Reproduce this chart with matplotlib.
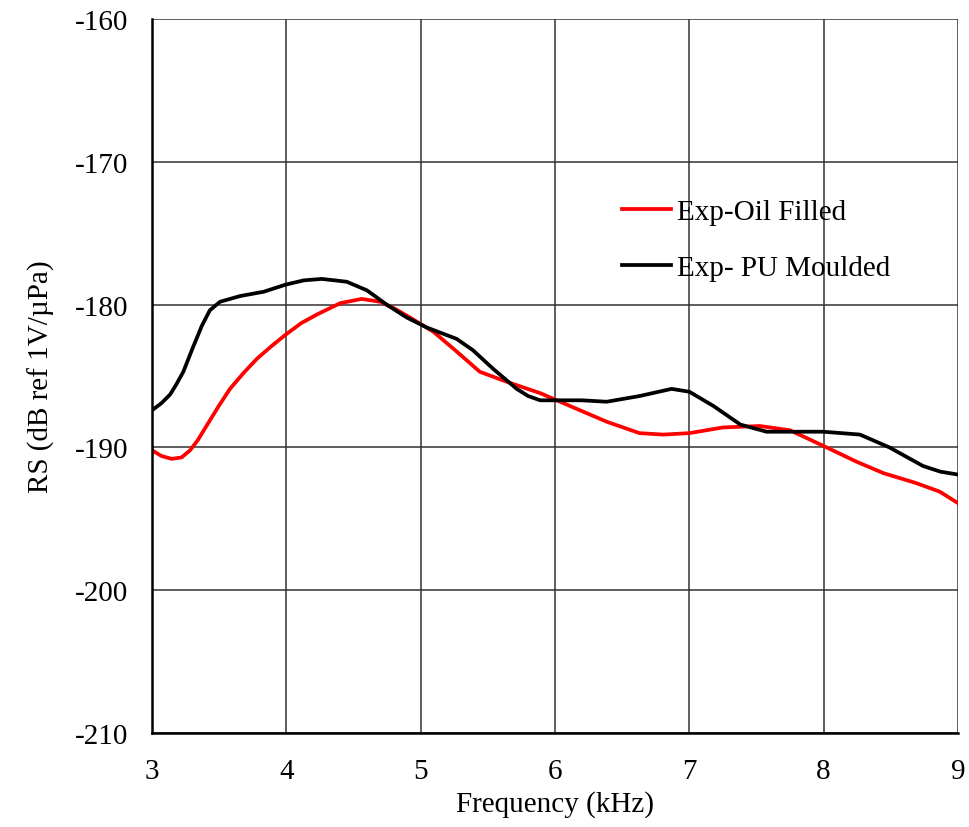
import matplotlib.pyplot as plt

plt.rcParams['font.family'] = ['Liberation Serif', 'DejaVu Serif']
plt.rcParams['axes.unicode_minus'] = False

# Exp-Oil Filled (red)
oil_f = [3.0, 3.07, 3.146, 3.22, 3.283, 3.34, 3.405, 3.49, 3.58, 3.68, 3.78, 3.89, 3.995,
         4.11, 4.226, 4.4, 4.56, 4.7, 4.81, 4.92, 5.095, 5.27, 5.44, 5.64, 5.89, 6.137,
         6.385, 6.63, 6.806, 7.0, 7.25, 7.525, 7.75, 8.0, 8.245, 8.445, 8.69, 8.865, 9.0]
oil_rs = [-190.2, -190.6, -190.8, -190.7, -190.2, -189.5, -188.5, -187.2, -185.9, -184.8,
          -183.8, -182.9, -182.1, -181.3, -180.7, -179.9, -179.6, -179.8, -180.3, -180.9,
          -181.9, -183.3, -184.7, -185.4, -186.2, -187.2, -188.2, -189.0, -189.1, -189.0,
          -188.6, -188.5, -188.8, -189.9, -191.0, -191.8, -192.5, -193.1, -193.9]

# Exp- PU Moulded (black)
pu_f = [3.0, 3.07, 3.134, 3.18, 3.233, 3.3, 3.37, 3.43, 3.506, 3.655, 3.83, 3.995, 4.13,
        4.263, 4.36, 4.45, 4.6, 4.747, 4.896, 5.045, 5.268, 5.39, 5.54, 5.715, 5.8, 5.89,
        6.01, 6.2, 6.385, 6.63, 6.868, 7.0, 7.18, 7.38, 7.575, 7.8, 7.997, 8.27, 8.49,
        8.74, 8.87, 9.0]
pu_rs = [-187.4, -186.9, -186.3, -185.6, -184.7, -183.1, -181.5, -180.4, -179.8, -179.4,
         -179.1, -178.6, -178.3, -178.2, -178.3, -178.4, -179.0, -180.0, -180.9, -181.6,
         -182.4, -183.2, -184.5, -185.9, -186.4, -186.7, -186.7, -186.7, -186.8, -186.4,
         -185.9, -186.1, -187.1, -188.4, -188.9, -188.9, -188.9, -189.1, -190.0, -191.3,
         -191.7, -191.9]

fig = plt.figure(figsize=(9.69, 8.28), dpi=100)
ax = fig.add_axes([0.1569, 0.1135, 0.8317, 0.8623])

ax.plot(oil_f, oil_rs, color='#ff0000', lw=2.7, label='Exp-Oil Filled',
        solid_joinstyle='round')
ax.plot(pu_f, pu_rs, color='black', lw=2.7, label='Exp- PU Moulded',
        solid_joinstyle='round')

ax.set_xlim(3, 9)
ax.set_ylim(-210, -160)
ax.set_xticks(range(3, 10))
ax.set_yticks(range(-210, -159, 10))
ax.grid(True, color='#333333', lw=1.1)
ax.tick_params(length=0, labelsize=21)
ax.tick_params(axis='y', pad=17)
ax.tick_params(axis='x', pad=18)
for s in ['top', 'right']:
    ax.spines[s].set_visible(False)
for s in ['left', 'bottom']:
    ax.spines[s].set_linewidth(1.8)

ax.set_xlabel('Frequency (kHz)', fontsize=21, labelpad=4)
ax.set_ylabel('RS (dB ref 1V/µPa)', fontsize=21, labelpad=14)

ax.legend(loc='upper left', bbox_to_anchor=(0.55, 0.785), frameon=False, fontsize=21,
          handlelength=1.7, handletextpad=0.2, labelspacing=1.0)

fig.savefig('out.png', dpi=100)
